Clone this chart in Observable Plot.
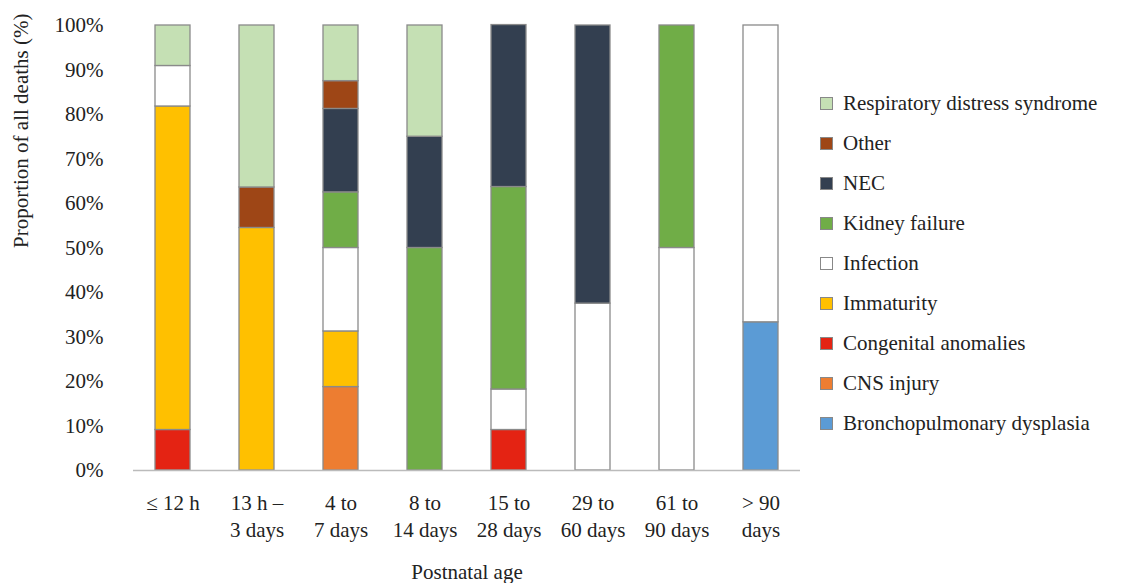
<!DOCTYPE html>
<html><head><meta charset="utf-8">
<script src="https://cdn.jsdelivr.net/npm/d3@7"></script>
<script src="https://cdn.jsdelivr.net/npm/@observablehq/plot@0.6"></script>
<style>
body{margin:0;background:#fff;}
#wrap{position:relative;width:1132px;height:583px;}
#legend{position:absolute;left:820px;top:83px;font-size:21px;color:#222;}
.row{display:flex;align-items:center;height:40px;}
.row span{font-family:"Liberation Serif","Times New Roman",serif !important;}
.sw{width:13px;height:13px;border:1px solid #888;margin-right:10px;box-sizing:border-box;}
</style></head><body>
<div id="wrap"><div id="chart"></div><div id="legend"></div></div>
<script>
const ages = ["≤ 12 h", "13 h –\n3 days", "4 to\n7 days", "8 to\n14 days", "15 to\n28 days", "29 to\n60 days", "61 to\n90 days", "> 90\ndays"];
const causes = ["Bronchopulmonary dysplasia", "CNS injury", "Congenital anomalies", "Immaturity", "Infection", "Kidney failure", "NEC", "Other", "Respiratory distress syndrome"];
const colors = ["#5b9bd5", "#ed7d31", "#e42313", "#ffc000", "#ffffff", "#70ad47", "#333f50", "#9e4616", "#c5e0b4"];
// percent per cause, one value per age group
const bpd        = [0, 0, 0, 0, 0, 0, 0, 33.3];
const cns        = [0, 0, 18.75, 0, 0, 0, 0, 0];
const congenital = [9.1, 0, 0, 0, 9.1, 0, 0, 0];
const immaturity = [72.7, 54.5, 12.5, 0, 0, 0, 0, 0];
const infection  = [9.1, 0, 18.75, 0, 9.1, 37.5, 50, 66.7];
const kidney     = [0, 0, 12.5, 50, 45.5, 0, 50, 0];
const nec        = [0, 0, 18.75, 25, 36.4, 62.5, 0, 0];
const other      = [0, 9.1, 6.25, 0, 0, 0, 0, 0];
const rds        = [9.1, 36.4, 12.5, 25, 0, 0, 0, 0];
const series = [bpd, cns, congenital, immaturity, infection, kidney, nec, other, rds];

const data = [];
series.forEach((s, i) => s.forEach((v, j) => { if (v > 0) data.push({age: ages[j], cause: causes[i], value: v / 100}); }));

const chart = Plot.plot({
  width: 810, height: 583,
  marginTop: 25, marginBottom: 113, marginLeft: 133, marginRight: 10,
  style: {fontFamily: "Liberation Serif, serif", fontSize: "21px", color: "#222"},
  x: {domain: ages, paddingInner: 0.58, paddingOuter: 0.26, label: null},
  y: {domain: [0, 1], label: null},
  color: {domain: causes, range: colors},
  marks: [
    Plot.barY(data, {x: "age", y: "value", fill: "cause", stroke: "#8a8a8a", strokeWidth: 1.3, order: causes}),
    Plot.ruleY([0], {stroke: "#bbb", strokeWidth: 1.5}),
    Plot.axisY({ticks: 10, tickFormat: d3.format(".0%"), tickSize: 0, tickPadding: 30, fontSize: 21, label: null}),
    Plot.axisX({tickSize: 0, tickPadding: 20, fontSize: 21, lineHeight: 1.3, label: null}),
    Plot.text(["Postnatal age"], {frameAnchor: "bottom", dy: 108, fontSize: 21}),
    Plot.text(["Proportion of all deaths (%)"], {frameAnchor: "left", dx: -112, rotate: -90, fontSize: 21})
  ]
});
document.getElementById("chart").append(chart);

const lg = document.getElementById("legend");
causes.slice().reverse().forEach((c, k) => {
  const col = colors[causes.length - 1 - k];
  const r = document.createElement("div"); r.className = "row";
  r.innerHTML = `<div class="sw" style="background:${col}"></div><span style="font-family:'Liberation Serif',serif">${c}</span>`;
  lg.append(r);
});
</script></body></html>
